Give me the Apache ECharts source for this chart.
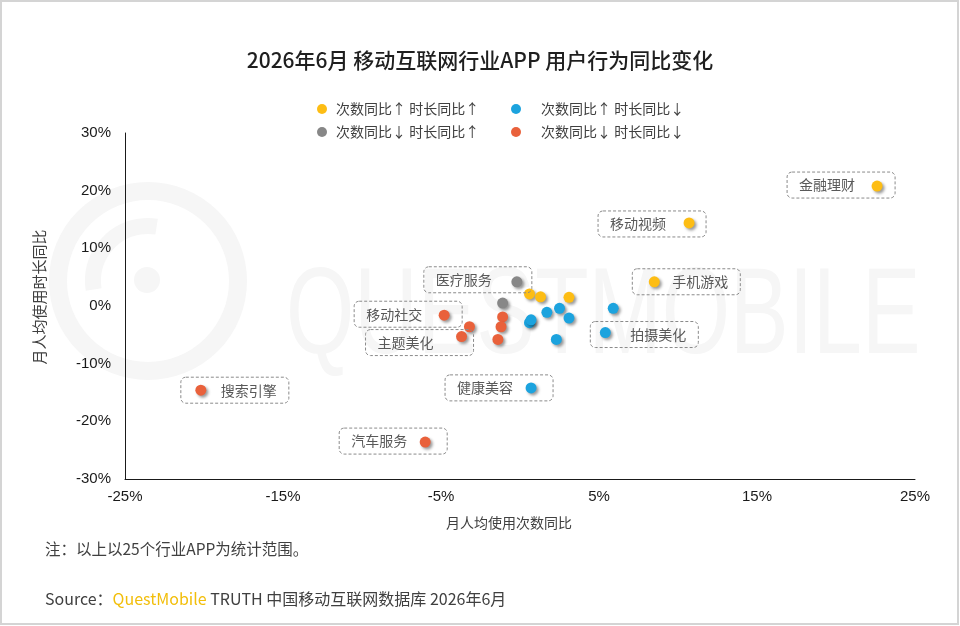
<!DOCTYPE html>
<html>
<head>
<meta charset="utf-8">
<script src="https://cdn.jsdelivr.net/npm/echarts@6/dist/echarts.min.js"></script>
<style>
  html, body { margin: 0; padding: 0; background: #fff; }
  #chart { width: 960px; height: 626px; }
</style>
</head>
<body>
<div id="chart"></div>
<script>
// 次数同比↑ 时长同比↑
var upUpNames = ['金融理财', '移动视频', '手机游戏', '', '', ''];
var upUpX = [22.6, 10.7, 8.5, 0.6, 1.3, 3.1];
var upUpY = [20.8, 14.4, 4.2, 2.1, 1.6, 1.5];

// 次数同比↑ 时长同比↓
var upDownNames = ['拍摄美化', '健康美容', '', '', '', '', '', '', ''];
var upDownX = [5.4, 0.7, 0.6, 0.7, 1.7, 2.5, 3.1, 2.3, 5.9];
var upDownY = [-4.6, -14.2, -2.9, -2.4, -1.1, -0.4, -2.1, -5.8, -0.4];

// 次数同比↓ 时长同比↑
var downUpNames = ['医疗服务', ''];
var downUpX = [-0.2, -1.1];
var downUpY = [4.2, 0.5];

// 次数同比↓ 时长同比↓
var downDownNames = ['移动社交', '主题美化', '搜索引擎', '汽车服务', '', '', '', ''];
var downDownX = [-4.8, -3.7, -20.2, -6.0, -3.2, -1.1, -1.2, -1.4];
var downDownY = [-1.6, -5.3, -14.6, -23.6, -3.6, -1.9, -3.6, -5.8];

var legendNames = ['次数同比↑ 时长同比↑', '次数同比↑ 时长同比↓', '次数同比↓ 时长同比↑', '次数同比↓ 时长同比↓'];
var colors = ['#FDBD14', '#1CA3DE', '#878787', '#E9613B'];

// label box placement: dx > 0 -> box right edge at dot + dx, dx < 0 -> box left edge at dot + dx
var labelPlace = {
  '金融理财': [18, -1],
  '移动视频': [17, 1],
  '手机游戏': [-22, 0],
  '医疗服务': [15, -2],
  '移动社交': [18, -1],
  '主题美化': [12, 6],
  '拍摄美化': [-15, 2],
  '健康美容': [22, 0],
  '搜索引擎': [-20, 0],
  '汽车服务': [22, -1]
};

function buildData(names, xs, ys) {
  return xs.map(function (x, i) {
    var item = { name: names[i], value: [x, ys[i]] };
    var place = labelPlace[names[i]];
    if (place) {
      var dotRight = place[0] > 0;
      item.label = {
        show: true,
        formatter: '{b}',
        position: 'inside',
        align: dotRight ? 'right' : 'left',
        verticalAlign: 'middle',
        offset: [place[0], place[1]],
        padding: dotRight ? [5, 40, 5, 12] : [5, 12, 5, 40],
        color: '#595959',
        fontSize: 14,
        lineHeight: 16,
        fontFamily: 'Noto Sans CJK SC',
        borderColor: '#8a8a8a',
        borderWidth: 1,
        borderType: [3, 2],
        borderRadius: 5,
        textBorderWidth: 0
      };
    }
    return item;
  });
}

var groups = [
  buildData(upUpNames, upUpX, upUpY),
  buildData(upDownNames, upDownX, upDownY),
  buildData(downUpNames, downUpX, downUpY),
  buildData(downDownNames, downDownX, downDownY)
];

var myChart = echarts.init(document.getElementById('chart'));

var cjk = 'Noto Sans CJK SC';

option = {
  backgroundColor: '#fff',
  animation: false,
  title: {
    text: '2026年6月 移动互联网行业APP 用户行为同比变化',
    left: 'center',
    top: 45,
    textStyle: {
      color: '#1f1f1f',
      fontSize: 21,
      fontWeight: 500,
      fontFamily: cjk
    }
  },
  legend: [{
    data: [legendNames[0], legendNames[2]],
    orient: 'vertical',
    left: 312,
    top: 96,
    itemWidth: 10,
    itemHeight: 10,
    itemGap: 7,
    icon: 'circle',
    itemStyle: { shadowBlur: 0, shadowOffsetX: 0, shadowOffsetY: 0 },
    textStyle: { color: '#404040', fontSize: 14, lineHeight: 16, fontFamily: cjk, padding: [0, 0, 0, 4] }
  }, {
    data: [legendNames[1], legendNames[3]],
    orient: 'vertical',
    left: 506,
    top: 96,
    itemWidth: 10,
    itemHeight: 10,
    itemGap: 7,
    icon: 'circle',
    itemStyle: { shadowBlur: 0, shadowOffsetX: 0, shadowOffsetY: 0 },
    textStyle: { color: '#404040', fontSize: 14, lineHeight: 16, fontFamily: cjk, padding: [0, 0, 0, 15] }
  }],
  grid: {
    left: 125,
    right: 45,
    top: 133,
    bottom: 147
  },
  xAxis: {
    type: 'value',
    min: -25,
    max: 25,
    interval: 5,
    name: '月人均使用次数同比',
    nameLocation: 'middle',
    nameGap: 37,
    nameTextStyle: { color: '#404040', fontSize: 14, fontFamily: cjk, padding: [0, 22, 0, 0] },
    axisLine: { onZero: false, lineStyle: { color: '#1a1a1a', width: 1 } },
    axisTick: { show: false },
    splitLine: { show: false },
    axisLabel: {
      margin: 10,
      color: '#1a1a1a',
      fontSize: 15,
      fontFamily: 'Liberation Sans',
      formatter: function (v) {
        return Math.abs(v) % 10 === 5 ? v + '%' : '';
      }
    }
  },
  yAxis: {
    type: 'value',
    min: -30,
    max: 30,
    interval: 10,
    name: '月人均使用时长同比',
    nameLocation: 'middle',
    nameGap: 78,
    nameRotate: 90,
    nameTextStyle: { color: '#404040', fontSize: 15, fontFamily: cjk, padding: [0, 0, 0, 18] },
    axisLine: { show: true, onZero: false, lineStyle: { color: '#1a1a1a', width: 1 } },
    axisTick: { show: false },
    splitLine: { show: false },
    axisLabel: {
      margin: 14,
      color: '#1a1a1a',
      fontSize: 15,
      fontFamily: 'Liberation Sans',
      formatter: '{value}%'
    }
  },
  graphic: [
    // watermark
    { type: 'circle', z: -10, silent: true, shape: { cx: 148, cy: 281, r: 90 },
      style: { fill: 'none', stroke: '#f6f6f6', lineWidth: 18 } },
    { type: 'arc', z: -10, silent: true, shape: { cx: 148, cy: 281, r: 55, startAngle: Math.PI * 0.95, endAngle: Math.PI * 1.55 },
      style: { fill: 'none', stroke: '#f6f6f6', lineWidth: 16 } },
    { type: 'circle', z: -10, silent: true, shape: { cx: 147, cy: 280, r: 13 },
      style: { fill: '#f6f6f6' } },
    { type: 'text', z: -10, silent: true, left: 286, top: 258, scaleX: 0.72,
      style: { text: 'QUESTMOBILE', fill: '#f6f6f6', fontSize: 122, fontFamily: 'Liberation Sans' } },
    // notes
    { type: 'text', left: 45, top: 541,
      style: { text: '注：以上以25个行业APP为统计范围。', fill: '#404040', fontSize: 15.5, fontFamily: cjk } },
    { type: 'text', left: 45, top: 591,
      style: {
        text: 'Source：{q|QuestMobile} TRUTH 中国移动互联网数据库 2026年6月',
        fill: '#404040', fontSize: 16, fontFamily: cjk,
        rich: { q: { fill: '#F2BE0A', fontSize: 16, fontFamily: cjk } }
      } },
    // frame
    { type: 'rect', silent: true, shape: { x: 1, y: 1, width: 957, height: 623 },
      style: { fill: 'none', stroke: '#d4d4d4', lineWidth: 2 } }
  ],
  series: groups.map(function (data, i) {
    return {
      name: legendNames[i],
      type: 'scatter',
      symbolSize: 11,
      itemStyle: {
        color: colors[i],
        opacity: 1,
        shadowBlur: 3,
        shadowOffsetX: 2,
        shadowOffsetY: 2,
        shadowColor: 'rgba(0,0,0,0.4)'
      },
      emphasis: { disabled: true },
      data: data
    };
  })
};

myChart.setOption(option);
</script>
</body>
</html>
